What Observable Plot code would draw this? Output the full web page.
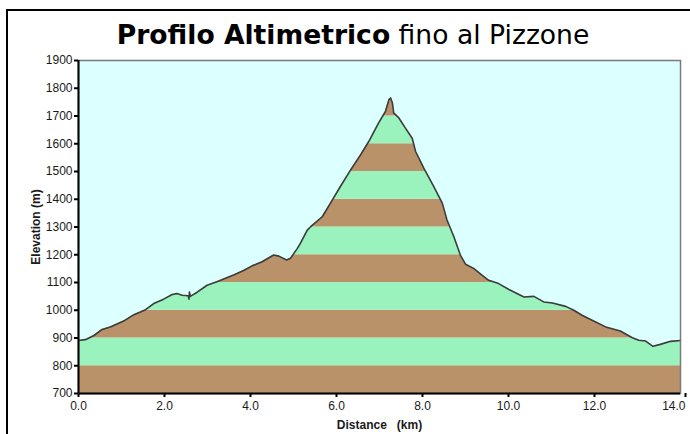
<!DOCTYPE html>
<html>
<head>
<meta charset="utf-8">
<script src="https://cdn.jsdelivr.net/npm/d3@7"></script>
<script src="https://cdn.jsdelivr.net/npm/@observablehq/plot@0.6"></script>
<style>
  html, body { margin: 0; padding: 0; background: #fff; }
  #wrap { position: relative; width: 690px; height: 434px; overflow: hidden; background: #fff; }
  #frame { position: absolute; left: 6px; top: 9px; width: 700px; height: 440px; border-left: 2px solid #000; border-top: 2px solid #000; }
  #title { position: absolute; left: 0; top: 19px; width: 706px; text-align: center; font-family: "DejaVu Sans", Verdana, sans-serif; font-size: 26.6px; color: #000; white-space: nowrap; }
  #title b { font-weight: bold; }
  #chart { position: absolute; left: 0; top: 0; }
</style>
</head>
<body>
<div id="wrap">
  <div id="frame"></div>
  <div id="title"><b>Profilo Altimetrico</b> fino al Pizzone</div>
  <div id="chart"></div>
</div>
<script>
// Distance along the route (km)
const distance = [0,0.16,0.36,0.55,0.74,1.05,1.29,1.56,1.75,1.98,2.18,2.29,2.41,2.55,2.57,2.58,2.60,2.76,2.99,3.22,3.42,3.61,3.84,4.04,4.27,4.54,4.66,4.84,4.93,5.09,5.16,5.32,5.40,5.67,5.86,6.09,6.33,6.56,6.75,6.98,7.14,7.22,7.26,7.30,7.33,7.45,7.60,7.76,7.84,8.03,8.26,8.46,8.57,8.73,8.88,9.0,9.19,9.39,9.54,9.77,10.01,10.36,10.59,10.82,11.02,11.33,11.52,11.71,11.98,12.26,12.60,12.88,13.03,13.19,13.36,13.53,13.77,14.0];
// Elevation (m)
const elevation = [891,894,909,931,940,961,984,1002,1024,1040,1057,1060,1054,1052,1040,1066,1050,1065,1090,1103,1115,1127,1143,1160,1175,1199,1195,1181,1187,1223,1241,1289,1301,1337,1386,1446,1506,1560,1608,1675,1717,1759,1765,1747,1711,1693,1657,1620,1572,1512,1446,1386,1325,1265,1199,1166,1151,1126,1108,1096,1075,1048,1050,1030,1026,1014,1000,982,961,940,925,901,892,889,870,877,888,891];
// Elevation bands (lower bound, m) and their colours
const bandStart = [700,800,900,1000,1100,1200,1300,1400,1500,1600,1700,1800];
const bandColor = ["#b9926a","#9af2bd","#b9926a","#9af2bd","#b9926a","#9af2bd","#b9926a","#9af2bd","#b9926a","#9af2bd","#b9926a","#9af2bd"];
// Axes
const xTicks = [0,2,4,6,8,10,12];
const xLastTick = [14];
const yTicks = [700,800,900,1000,1100,1200,1300,1400,1500,1600,1700,1800,1900];
const xDomain = [0, 14];
const yDomain = [700, 1900];

const profile = distance.map((d, i) => ({d, e: elevation[i]}));
const bands = bandStart.map((lo, i) => ({lo, hi: lo + 100, c: bandColor[i]}));

const sky = "#dcffff";
const fontFam = "'Liberation Sans', Arial, sans-serif";
const fmt = d3.format(".1f");

const chart = Plot.plot({
  width: 690,
  height: 434,
  marginLeft: 78,
  marginRight: 10,
  marginTop: 60,
  marginBottom: 41,
  style: {background: "transparent", fontFamily: fontFam, fontSize: "12px", color: "#1a1a1a"},
  x: {domain: xDomain},
  y: {domain: yDomain},
  marks: [
    Plot.rect(bands, {y1: "lo", y2: "hi", fill: "c", clip: true}),
    Plot.areaY(profile, {x: "d", y1: "e", y2: () => yDomain[1], fill: sky}),
    Plot.line(profile, {x: "d", y: "e", stroke: "#3c3c3c", strokeWidth: 1.6}),
    Plot.frame({stroke: "#7a7a7a", strokeWidth: 1.5}),
    Plot.ruleX([xDomain[0]], {stroke: "#000", strokeWidth: 2}),
    Plot.ruleY([yDomain[0]], {stroke: "#000", strokeWidth: 2}),
    Plot.axisY({ticks: yTicks, tickSize: 4, tickPadding: 2, strokeWidth: 2, stroke: "#000",
      fontSize: 12, tickFormat: d => String(d),
      label: "Elevation (m)", labelAnchor: "center", labelArrow: false, labelOffset: 47}),
    Plot.axisX({ticks: xTicks, tickSize: 4, tickPadding: 4, strokeWidth: 2, stroke: "#000",
      fontSize: 12, tickFormat: fmt, label: "Distance   (km)", labelAnchor: "center", labelArrow: false, labelOffset: 35}),
    Plot.axisX({ticks: xLastTick, tickSize: 4, tickPadding: 4, strokeWidth: 2, stroke: "#000",
      fontSize: 12, tickFormat: fmt, textAnchor: "end", dx: 5, label: null})
  ]
});
document.getElementById("chart").appendChild(chart);
// style axis labels bold
chart.querySelectorAll("[aria-label='y-axis label'] text, [aria-label='x-axis label'] text").forEach(t => {
  t.setAttribute("font-weight", "bold");
  t.setAttribute("font-size", "12");
  t.style.whiteSpace = "pre";
});
</script>
</body>
</html>
